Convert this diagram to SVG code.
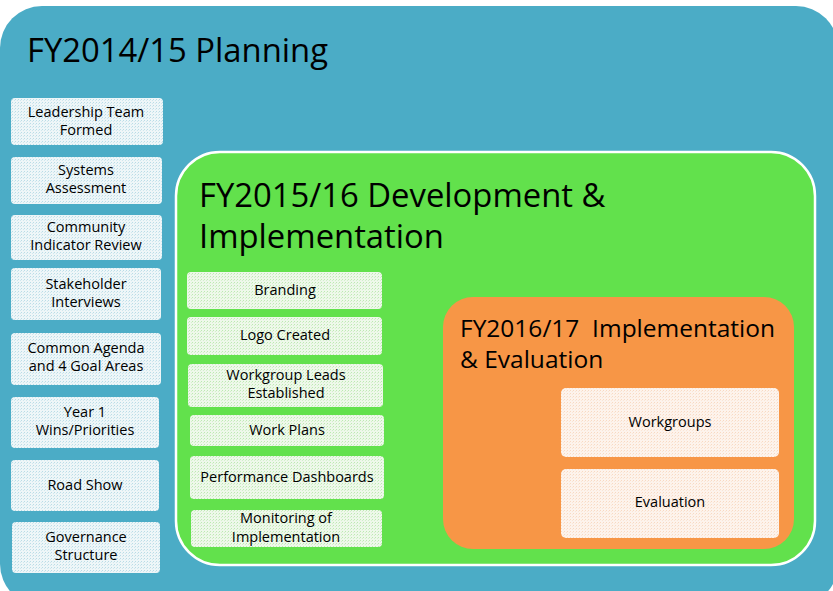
<svg xmlns="http://www.w3.org/2000/svg" width="833" height="591" viewBox="0 0 833 591">
<style>
.title{font-family:"Open Sans","Noto Sans",sans-serif;fill:#000}
.t1{font-size:32.8px}
.t3{font-size:24.5px}
.lbl{font-family:"Open Sans","Noto Sans",sans-serif;font-size:14.5px;fill:#000;text-anchor:middle}
.bB{fill:url(#patB)}
.bG{fill:url(#patG)}
.bO{fill:url(#patO)}
</style>
<defs>
<pattern id="patB" width="3" height="3" patternUnits="userSpaceOnUse">
<rect width="3" height="3" fill="#eef6f8"/>
<rect width="1" height="1" fill="#b9dce6"/>
<rect x="2" y="1" width="1" height="1" fill="#cfe7ee"/>
</pattern>
<pattern id="patG" width="3" height="3" patternUnits="userSpaceOnUse">
<rect width="3" height="3" fill="#eef8ea"/>
<rect width="1" height="1" fill="#bde9b2"/>
<rect x="2" y="1" width="1" height="1" fill="#d3f0cb"/>
</pattern>
<pattern id="patO" width="3" height="3" patternUnits="userSpaceOnUse">
<rect width="3" height="3" fill="#fdf3ec"/>
<rect width="1" height="1" fill="#f8d9c2"/>
<rect x="2" y="1" width="1" height="1" fill="#fae6d6"/>
</pattern>
</defs>
<rect width="833" height="591" fill="#fff"/>
<g id="planning">
<rect x="0" y="6" width="838" height="600" rx="42" fill="#4bacc6"/>
<text class="title t1" x="27" y="62">FY2014/15 Planning</text>
</g>
<g id="n-leadership"><rect class="bB" x="11" y="98" width="152" height="47" rx="4"/><text class="lbl" x="86" y="117">Leadership Team</text><text class="lbl" x="86" y="135">Formed</text></g>
<g id="n-systems"><rect class="bB" x="11" y="157" width="151" height="47" rx="4"/><text class="lbl" x="86" y="175">Systems</text><text class="lbl" x="86" y="193">Assessment</text></g>
<g id="n-community"><rect class="bB" x="11" y="215" width="151" height="45" rx="4"/><text class="lbl" x="86" y="232">Community</text><text class="lbl" x="86" y="250">Indicator Review</text></g>
<g id="n-stakeholder"><rect class="bB" x="11" y="268" width="150" height="52" rx="4"/><text class="lbl" x="86" y="289">Stakeholder</text><text class="lbl" x="86" y="307">Interviews</text></g>
<g id="n-agenda"><rect class="bB" x="11" y="333" width="150" height="52" rx="4"/><text class="lbl" x="86" y="353">Common Agenda</text><text class="lbl" x="86" y="371">and 4 Goal Areas</text></g>
<g id="n-year1"><rect class="bB" x="11" y="397" width="148" height="51" rx="4"/><text class="lbl" x="85" y="417">Year 1</text><text class="lbl" x="85" y="435">Wins/Priorities</text></g>
<g id="n-roadshow"><rect class="bB" x="11" y="460" width="148" height="51" rx="4"/><text class="lbl" x="85" y="490">Road Show</text></g>
<g id="n-governance"><rect class="bB" x="12" y="522" width="148" height="51" rx="4"/><text class="lbl" x="86" y="542">Governance</text><text class="lbl" x="86" y="560">Structure</text></g>
<g id="development">
<rect x="176" y="152" width="639" height="413" rx="44" fill="#62e14c" stroke="#fff" stroke-width="2.5"/>
<text class="title t1" x="199" y="207">FY2015/16 Development &amp;</text>
<text class="title t1" x="199" y="248">Implementation</text>
</g>
<g id="n-branding"><rect class="bG" x="187" y="272" width="195" height="37" rx="4"/><text class="lbl" x="285" y="295">Branding</text></g>
<g id="n-logo"><rect class="bG" x="187" y="317" width="195" height="38" rx="4"/><text class="lbl" x="285" y="340">Logo Created</text></g>
<g id="n-leads"><rect class="bG" x="188" y="364" width="195" height="43" rx="4"/><text class="lbl" x="286" y="380">Workgroup Leads</text><text class="lbl" x="286" y="398">Established</text></g>
<g id="n-workplans"><rect class="bG" x="190" y="415" width="194" height="31" rx="4"/><text class="lbl" x="287" y="435">Work Plans</text></g>
<g id="n-dashboards"><rect class="bG" x="190" y="456" width="194" height="43" rx="4"/><text class="lbl" x="287" y="482">Performance Dashboards</text></g>
<g id="n-monitoring"><rect class="bG" x="191" y="510" width="191" height="37" rx="4"/><text class="lbl" x="286" y="523">Monitoring of</text><text class="lbl" x="286" y="542">Implementation</text></g>
<g id="implementation">
<rect x="443" y="297" width="351" height="252" rx="30" fill="#f79646"/>
<text class="title t3" x="460" y="337" xml:space="preserve">FY2016/17  Implementation</text>
<text class="title t3" x="460" y="368">&amp; Evaluation</text>
</g>
<g id="n-workgroups"><rect class="bO" x="561" y="388" width="218" height="69" rx="5"/><text class="lbl" x="670" y="427">Workgroups</text></g>
<g id="n-evaluation"><rect class="bO" x="561" y="469" width="218" height="69" rx="5"/><text class="lbl" x="670" y="507">Evaluation</text></g>
<g id="connectors"/>
</svg>
